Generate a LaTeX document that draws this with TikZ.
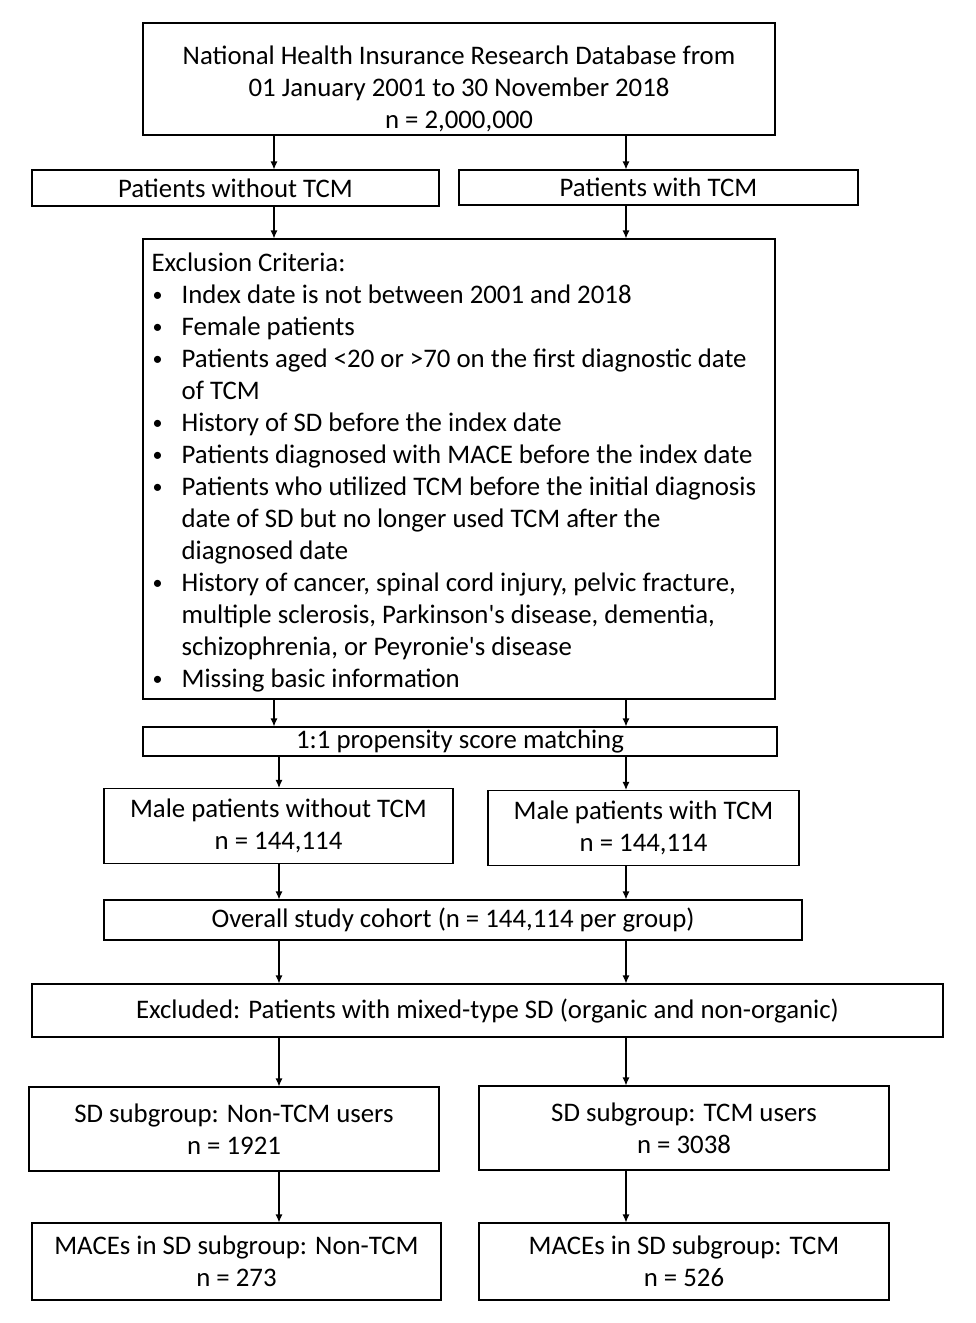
\documentclass[tikz,border=0pt]{standalone}
\usepackage{fontspec}
\setmainfont{Carlito}
\usetikzlibrary{arrows.meta}
\newcommand{\critbullet}{\makebox[30pt][l]{\hspace{1pt}\raisebox{1.5pt}{\fontsize{20}{20}\selectfont\textbullet}}}
\tikzset{
  box/.style={draw, line width=1.1pt, inner sep=0pt, align=center, font=\fontsize{26.8}{32}\selectfont},
  arr/.style={-{Latex[length=8pt,width=7pt]}, line width=1.2pt}
}
\begin{document}
\begin{tikzpicture}[x=1pt, y=-1pt]
        \useasboundingbox (0,0) rectangle (976,1323);

        \node (nhird) [box, minimum width=632pt, minimum height=112pt] at (459,79) {\vphantom{X}\\[-10pt]National Health Insurance Research Database from\\01 January 2001 to 30 November 2018\\n = 2,000,000};
        \node (noTCM) [box, minimum width=407pt, minimum height=36pt] at (235.5,188) {Patients without TCM};
        \node (TCM) [box, minimum width=399pt, minimum height=35pt] at (658.5,187.5) {Patients with TCM};

        \node (excl) [box, minimum width=632pt, minimum height=460pt] at (459,469) {};
        \node (criteria) [anchor=north west, inner sep=0pt, font=\fontsize{26.8}{32}\selectfont] at ([xshift=9pt, yshift=-10pt]excl.north west) {%
          \begin{tabular}{@{}l@{}l@{}}
            \multicolumn{2}{@{}l@{}}{Exclusion Criteria:}\\
            \critbullet & Index date is not between 2001 and 2018\\
            \critbullet & Female patients\\
            \critbullet & Patients aged <20 or >70 on the first diagnostic date\\
             & of TCM\\
            \critbullet & History of SD before the index date\\
            \critbullet & Patients diagnosed with MACE before the index date\\
            \critbullet & Patients who utilized TCM before the initial diagnosis\\
             & date of SD but no longer used TCM after the\\
             & diagnosed date\\
            \critbullet & History of cancer, spinal cord injury, pelvic fracture,\\
             & multiple sclerosis, Parkinson\textquotesingle s disease, dementia,\\
             & schizophrenia, or Peyronie\textquotesingle s disease\\
            \critbullet & Missing basic information
          \end{tabular}};

        \node (psm) [box, minimum width=634pt, minimum height=29pt] at (460,741.5) {1:1 propensity score matching};
        \node (maleNoTCM) [box, minimum width=349pt, minimum height=75pt] at (278.5,826) {Male patients without TCM\\n = 144,114};
        \node (maleTCM) [box, minimum width=311pt, minimum height=75pt] at (643.5,828) {Male patients with TCM\\n = 144,114};
        \node (cohort) [box, minimum width=698pt, minimum height=40pt] at (453,920) {Overall study cohort (n = 144,114 per group)};
        \node (mixed) [box, minimum width=911pt, minimum height=53pt] at (487.5,1010.5) {Excluded: Patients with mixed-type SD (organic and non-organic)};
        \node (sdNoTCM) [box, minimum width=410pt, minimum height=84pt] at (234,1129) {SD subgroup: Non-TCM users\\n = 1921};
        \node (sdTCM) [box, minimum width=410pt, minimum height=84pt] at (684,1128) {SD subgroup: TCM users\\n = 3038};
        \node (maceNoTCM) [box, minimum width=409pt, minimum height=77pt] at (236.5,1261.5) {MACEs in SD subgroup: Non-TCM\\n = 273};
        \node (maceTCM) [box, minimum width=410pt, minimum height=77pt] at (684,1261.5) {MACEs in SD subgroup: TCM\\n = 526};

        \coordinate (colA) at (274,0);
        \coordinate (colB) at (279,0);
        \coordinate (colR) at (626,0);

        \draw [arr] (nhird.south -| colA) -- (noTCM.north -| colA);
        \draw [arr] (nhird.south -| colR) -- (TCM.north -| colR);
        \draw [arr] (noTCM.south -| colA) -- (excl.north -| colA);
        \draw [arr] (TCM.south -| colR) -- (excl.north -| colR);
        \draw [arr] (excl.south -| colA) -- (psm.north -| colA);
        \draw [arr] (excl.south -| colR) -- (psm.north -| colR);
        \draw [arr] (psm.south -| colB) -- (maleNoTCM.north -| colB);
        \draw [arr] (psm.south -| colR) -- (maleTCM.north -| colR);
        \draw [arr] (maleNoTCM.south -| colB) -- (cohort.north -| colB);
        \draw [arr] (maleTCM.south -| colR) -- (cohort.north -| colR);
        \draw [arr] (cohort.south -| colB) -- (mixed.north -| colB);
        \draw [arr] (cohort.south -| colR) -- (mixed.north -| colR);
        \draw [arr] (mixed.south -| colB) -- (sdNoTCM.north -| colB);
        \draw [arr] (mixed.south -| colR) -- (sdTCM.north -| colR);
        \draw [arr] (sdNoTCM.south -| colB) -- (maceNoTCM.north -| colB);
        \draw [arr] (sdTCM.south -| colR) -- (maceTCM.north -| colR);

    \end{tikzpicture}
\end{document}
